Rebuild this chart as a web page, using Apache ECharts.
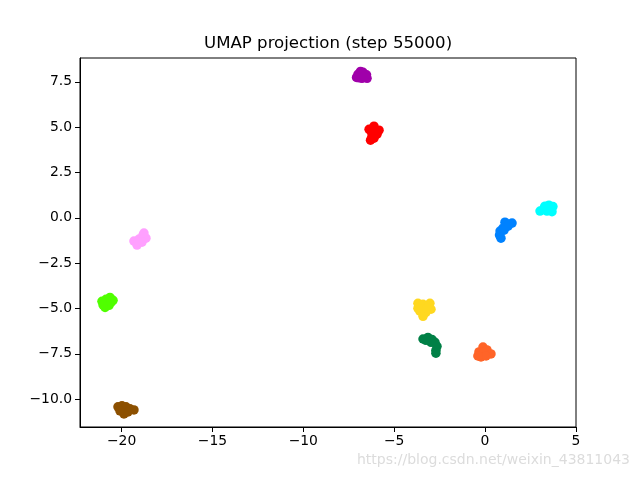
<!DOCTYPE html>
<html>
<head>
<meta charset="utf-8">
<script src="https://cdn.jsdelivr.net/npm/echarts@6/dist/echarts.min.js"></script>
<style>html,body{margin:0;padding:0;background:#fff}#c{width:640px;height:480px}</style>
</head>
<body>
<div id="c"></div>
<script>
const xTicks = [-20, -15, -10, -5, 0, 5];
const yTicks = [-10, -7.5, -5, -2.5, 0, 2.5, 5, 7.5];
const clusterNames = ['c0','c1','c2','c3','c4','c5','c6','c7','c8','c9'];
const clusterColors = ['#a000aa','#ff0000','#00ffff','#0082ff','#ffa0ff','#50ff00','#ffd820','#008046','#ff6428','#8c5000'];
const purple = [[-7.07,7.74],[-6.99,7.91],[-6.85,8.07],[-6.71,8.02],[-6.52,7.88],[-6.49,7.69],[-6.77,7.69],[-6.93,7.72],[-6.66,7.80]];
const red = [[-6.11,5.05],[-6.38,4.88],[-5.83,4.83],[-6.11,4.72],[-6.22,4.50],[-6.30,4.28],[-6.11,4.39],[-5.94,4.61],[-6.27,4.77]];
const cyan = [[3.03,0.37],[3.30,0.64],[3.52,0.70],[3.74,0.62],[3.69,0.34],[3.41,0.37],[3.25,0.53],[3.58,0.48]];
const blue = [[1.10,-0.24],[1.49,-0.29],[1.27,-0.46],[0.99,-0.57],[0.83,-0.73],[0.80,-0.95],[0.88,-1.12],[1.05,-0.68],[1.32,-0.35]];
const pink = [[-19.32,-1.28],[-19.15,-1.50],[-19.04,-1.17],[-18.82,-0.95],[-18.66,-1.12],[-18.88,-1.34],[-19.10,-1.34],[-18.77,-0.84]];
const green = [[-21.08,-4.60],[-20.86,-4.49],[-20.64,-4.39],[-20.47,-4.55],[-20.69,-4.82],[-20.91,-4.94],[-21.02,-4.80],[-20.58,-4.66]];
const yellow = [[-3.69,-4.71],[-3.41,-4.77],[-3.03,-4.71],[-2.97,-5.04],[-3.25,-5.21],[-3.58,-5.15],[-3.41,-5.43],[-3.69,-4.99],[-3.19,-4.99]];
const darkGreen = [[-3.41,-6.68],[-3.14,-6.59],[-2.92,-6.70],[-2.75,-6.86],[-2.64,-7.08],[-2.70,-7.30],[-2.70,-7.46],[-2.97,-6.86],[-3.25,-6.75]];
const orange = [[-0.11,-7.12],[-0.33,-7.39],[-0.06,-7.39],[-0.22,-7.67],[0.11,-7.28],[0.33,-7.50],[0.06,-7.61],[-0.39,-7.61]];
const brown = [[-20.20,-10.42],[-19.98,-10.36],[-19.76,-10.42],[-19.54,-10.53],[-19.32,-10.59],[-19.65,-10.70],[-19.87,-10.81],[-20.09,-10.64]];
const clusters = [purple, red, cyan, blue, pink, green, yellow, darkGreen, orange, brown];

const font = 'DejaVu Sans';
const minus = s => s.replace('-', '\u2212');
const chart = echarts.init(document.getElementById('c'), null, {renderer: 'canvas'});
chart.setOption({
  animation: false,
  backgroundColor: '#fff',
  title: {
    text: 'UMAP projection (step 55000)',
    left: 204, top: 35, padding: 0,
    textStyle: {fontFamily: font, fontSize: 16.6, fontWeight: 'normal', color: '#000'}
  },
  graphic: [{
    type: 'text', right: 10, top: 453,
    style: {text: 'https://blog.csdn.net/weixin_43811043', fontFamily: font, fontSize: 14, fill: '#dcdcdc'}
  }],
  grid: {left: 80, right: 64, top: 58, bottom: 53, show: true, borderColor: '#000', borderWidth: 1, backgroundColor: '#fff'},
  xAxis: {
    type: 'value', min: -22.29, max: 5.01,
    axisLine: {show: true, onZero: false, lineStyle: {color: '#000', width: 1}},
    axisTick: {show: true, inside: false, length: 5, customValues: xTicks, lineStyle: {color: '#000'}},
    axisLabel: {customValues: xTicks, margin: 7, fontFamily: font, fontSize: 13.9, color: '#000', formatter: v => minus(String(v))},
    splitLine: {show: false}
  },
  yAxis: {
    type: 'value', min: -11.53, max: 8.81,
    axisLine: {show: true, onZero: false, lineStyle: {color: '#000', width: 1}},
    axisTick: {show: true, inside: false, length: 5, customValues: yTicks, lineStyle: {color: '#000'}},
    axisLabel: {customValues: yTicks, margin: 8, fontFamily: font, fontSize: 13.9, color: '#000', formatter: v => minus(v.toFixed(1))},
    splitLine: {show: false}
  },
  series: clusters.map((d, i) => ({
    name: clusterNames[i], type: 'scatter', data: d, symbol: 'circle', symbolSize: 9.5,
    itemStyle: {color: clusterColors[i], opacity: 1}
  }))
});
</script>
</body>
</html>
